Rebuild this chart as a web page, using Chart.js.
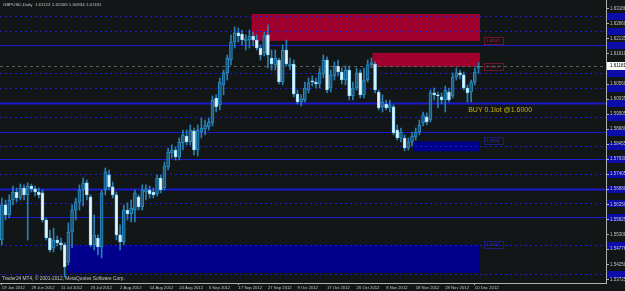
<!DOCTYPE html>
<html>
<head>
<meta charset="utf-8">
<script src="https://cdn.jsdelivr.net/npm/chart.js@4.4.1/dist/chart.umd.min.js"></script>
<style>
  html, body { margin: 0; padding: 0; background: #121617; }
  canvas { display: block; }
</style>
</head>
<body>
<canvas id="myChart" width="625" height="291"></canvas>
<script>
// GBPUSD daily candles, 19 Jun 2012 .. 13 Dec 2012
var symbol = "GBPUSD,Daily";

var opens = [1.5510,1.5633,1.5598,1.5650,1.5678,1.5657,1.5692,1.5668,1.5699,1.5689,
  1.5678,1.5675,1.5580,1.5517,1.5482,1.5510,1.5500,1.5493,1.5433,1.5538,
  1.5615,1.5643,1.5685,1.5710,1.5661,1.5493,1.5517,1.5486,1.5685,1.5738,
  1.5696,1.5668,1.5528,1.5503,1.5615,1.5601,1.5615,1.5661,1.5626,1.5678,
  1.5685,1.5678,1.5671,1.5727,1.5692,1.5766,1.5815,1.5825,1.5801,1.5850,
  1.5874,1.5853,1.5892,1.5825,1.5888,1.5899,1.5906,1.5920,1.6007,1.5983,
  1.6053,1.6095,1.6140,1.6203,1.6235,1.6231,1.6207,1.6210,1.6224,1.6210,
  1.6182,1.6165,1.6228,1.6147,1.6123,1.6140,1.6063,1.6175,1.6119,1.6126,
  1.6021,1.5993,1.6000,1.6035,1.6067,1.6063,1.6056,1.6091,1.6140,1.6042,
  1.6084,1.6119,1.6098,1.6070,1.6105,1.6014,1.6042,1.6095,1.6018,1.6070,
  1.6123,1.6126,1.6028,1.5976,1.5986,1.5972,1.5976,1.5895,1.5867,1.5867,
  1.5832,1.5853,1.5871,1.5888,1.5920,1.5941,1.5930,1.6025,1.6018,1.6011,
  1.6000,1.6028,1.6014,1.6081,1.6095,1.6088,1.6042,1.6028,1.6063,1.61123];

var highs = [1.5657,1.5650,1.5668,1.5699,1.5692,1.5706,1.5703,1.5710,1.5706,1.5699,
  1.5692,1.5685,1.5587,1.5545,1.5552,1.5524,1.5517,1.5500,1.5570,1.5633,
  1.5657,1.5703,1.5727,1.5720,1.5668,1.5598,1.5528,1.5685,1.5762,1.5755,
  1.5713,1.5678,1.5563,1.5633,1.5640,1.5650,1.5685,1.5668,1.5703,1.5703,
  1.5699,1.5692,1.5738,1.5738,1.5783,1.5832,1.5843,1.5836,1.5867,1.5895,
  1.5895,1.5913,1.5902,1.5913,1.5937,1.5930,1.5937,1.6014,1.6018,1.6077,
  1.6105,1.6158,1.6228,1.6256,1.6252,1.6245,1.6228,1.6245,1.6238,1.6228,
  1.6193,1.6238,1.6263,1.6175,1.6175,1.6147,1.6193,1.6210,1.6147,1.6140,
  1.6035,1.6018,1.6063,1.6077,1.6084,1.6077,1.6112,1.6158,1.6151,1.6105,
  1.6133,1.6140,1.6112,1.6119,1.6119,1.6063,1.6112,1.6105,1.6112,1.6140,
  1.6147,1.6133,1.6035,1.6018,1.6000,1.6000,1.5983,1.5913,1.5902,1.5878,
  1.5867,1.5888,1.5902,1.5930,1.5958,1.5955,1.6035,1.6042,1.6028,1.6025,
  1.6049,1.6042,1.6095,1.6112,1.6105,1.6098,1.6053,1.6070,1.6112,1.61305];

var lows = [1.5493,1.5580,1.5587,1.5633,1.5643,1.5650,1.5650,1.5510,1.5678,1.5664,
  1.5657,1.5573,1.5510,1.5468,1.5468,1.5489,1.5475,1.5380,1.5423,1.5482,
  1.5580,1.5615,1.5629,1.5650,1.5486,1.5475,1.5458,1.5447,1.5668,1.5685,
  1.5657,1.5510,1.5475,1.5493,1.5580,1.5573,1.5573,1.5615,1.5615,1.5650,
  1.5657,1.5657,1.5664,1.5675,1.5685,1.5755,1.5797,1.5790,1.5790,1.5825,
  1.5843,1.5843,1.5808,1.5804,1.5867,1.5878,1.5895,1.5909,1.5958,1.5965,
  1.6018,1.6070,1.6123,1.6182,1.6203,1.6193,1.6175,1.6182,1.6189,1.6175,
  1.6140,1.6154,1.6112,1.6105,1.6105,1.6056,1.6053,1.6119,1.6105,1.6011,
  1.5986,1.5979,1.5993,1.6025,1.6049,1.6042,1.6042,1.6077,1.6025,1.6028,
  1.6070,1.6084,1.6056,1.6053,1.6000,1.6000,1.6035,1.6007,1.6007,1.6063,
  1.6112,1.6025,1.5965,1.5958,1.5965,1.5958,1.5878,1.5860,1.5853,1.5822,
  1.5825,1.5839,1.5860,1.5878,1.5909,1.5913,1.5923,1.6000,1.5972,1.5986,
  1.5958,1.5993,1.6007,1.6070,1.6074,1.6035,1.5993,1.5993,1.6053,1.60934];

var closes = [1.5633,1.5598,1.5650,1.5678,1.5657,1.5692,1.5668,1.5699,1.5689,1.5678,
  1.5668,1.5580,1.5517,1.5475,1.5510,1.5500,1.5493,1.5416,1.5538,1.5615,
  1.5643,1.5685,1.5710,1.5668,1.5493,1.5528,1.5486,1.5675,1.5748,1.5696,
  1.5668,1.5528,1.5503,1.5615,1.5601,1.5622,1.5675,1.5626,1.5685,1.5689,
  1.5671,1.5668,1.5727,1.5685,1.5769,1.5818,1.5825,1.5801,1.5853,1.5878,
  1.5853,1.5895,1.5825,1.5895,1.5902,1.5913,1.5923,1.6000,1.5976,1.6063,
  1.6095,1.6147,1.6203,1.6235,1.6224,1.6210,1.6214,1.6224,1.6210,1.6182,
  1.6158,1.6224,1.6158,1.6126,1.6147,1.6063,1.6175,1.6126,1.6126,1.6021,
  1.5993,1.6004,1.6042,1.6060,1.6063,1.6056,1.6095,1.6140,1.6035,1.6088,
  1.6119,1.6098,1.6070,1.6105,1.6014,1.6042,1.6095,1.6018,1.6070,1.6123,
  1.6130,1.6035,1.5972,1.5993,1.5972,1.5983,1.5885,1.5867,1.5888,1.5832,
  1.5853,1.5874,1.5888,1.5913,1.5948,1.5923,1.6025,1.6018,1.6014,1.6000,
  1.6035,1.6000,1.6081,1.6095,1.6088,1.6042,1.6025,1.6063,1.6098,1.61181];

// time axis labels, one every 8 bars
var dateTicks = ["19 Jun 2012","29 Jun 2012","11 Jul 2012","23 Jul 2012","2 Aug 2012",
  "14 Aug 2012","24 Aug 2012","5 Sep 2012","17 Sep 2012","27 Sep 2012","9 Oct 2012",
  "17 Oct 2012","26 Oct 2012","8 Nov 2012","18 Nov 2012","28 Nov 2012","10 Dec 2012"];

// price axis labels
var priceTicks = [1.63188,1.62660,1.62135,1.61610,1.60560,1.60035,1.59505,1.58980,1.58455,
  1.57930,1.57405,1.56880,1.56350,1.55825,1.55300,1.54776,1.54250,1.53725];

// horizontal levels drawn on the chart
var levelPrices = [1.6294,1.6242,1.6193,1.6095,1.6042,1.5990,1.5941,1.5888,1.5839,
  1.5794,1.5741,1.5689,1.5640,1.5591,1.5493,1.5391];
var levelKinds = ["dot","dot","solid","dot","dot","thick","dot","solid","dot",
  "solid","dot","thick","dot","solid","dot","dot"];

// supply / demand rectangles (bar index from..to, price high..low)
var zoneFrom = [67.6, 100.3, 17.9, 111.3];
var zoneTo   = [129.4, 129.4, 129.4, 129.4];
var zoneHigh = [1.6301, 1.6165, 1.5493, 1.5855];
var zoneLow  = [1.6207, 1.6116, 1.5395, 1.5820];
var zoneKind = ["supply", "supply", "demand", "demand"];

var tradeText = "BUY 0.1lot @1.6000";
var tradeBar = 126.2, tradePrice = 1.5965;
var copyright = "Trader24 MT4, \u00a9 2001-2012, MetaQuotes Software Corp.";

var totalSlots = 164; // bars + empty right margin
var yMin = 1.53595, yMax = 1.6350;

var bg = "#121617";
var bullFill = "#17587c", bullEdge = "#2c8cc2", bearFill = "#e2f7ff", bearEdge = "#98d8f4";
var wickColor = "#2a80b4";
var textColor = "#c4c4c4";
var axisColor = "#b0b0b0";
var zoneColors = { supply: "#a0002e", demand: "#00008c" };
var zoneEdgeColors = { supply: "#c8183c", demand: "#2a2ad8" };

var slots = [];
for (var i = 0; i < totalSlots; i++) slots.push(i);

var bodies = [], wicks = [], fills = [], edges = [];
for (var i = 0; i < opens.length; i++) {
    bodies.push([Math.min(opens[i], closes[i]), Math.max(opens[i], closes[i])]);
    wicks.push([lows[i], highs[i]]);
    var up = closes[i] >= opens[i];
    fills.push(up ? bullFill : bearFill);
    edges.push(up ? bullEdge : bearEdge);
}

var overlay = {
    id: "mt4",
    beforeDraw: function (chart) {
        var c = chart.ctx, a = chart.chartArea, ys = chart.scales.y;
        c.save();
        c.fillStyle = bg;
        c.fillRect(0, 0, chart.width, chart.height);
        // level tags on the price axis
        c.fillStyle = "#0c0ca8";
        for (var i = 0; i < levelPrices.length; i++) {
            var py = Math.round(ys.getPixelForValue(levelPrices[i]));
            c.fillRect(a.right + 1, py - 3, chart.width - a.right - 1, 7);
        }
        c.restore();
    },
    beforeDatasetsDraw: function (chart) {
        var c = chart.ctx, a = chart.chartArea, xs = chart.scales.x, ys = chart.scales.y;
        c.save();
        c.beginPath();
        c.rect(a.left, a.top, a.right - a.left, a.bottom - a.top);
        c.clip();
        // rectangles
        for (var i = 0; i < zoneFrom.length; i++) {
            var x1 = xs.getPixelForValue(zoneFrom[i]), x2 = xs.getPixelForValue(zoneTo[i]);
            var y1 = ys.getPixelForValue(zoneHigh[i]), y2 = ys.getPixelForValue(zoneLow[i]);
            c.fillStyle = zoneColors[zoneKind[i]];
            c.fillRect(x1, y1, x2 - x1, y2 - y1);
        }
        // horizontal levels
        c.strokeStyle = "#1a1ad2";
        for (var i = 0; i < levelPrices.length; i++) {
            var py = Math.round(ys.getPixelForValue(levelPrices[i])) + 0.5;
            var k = levelKinds[i];
            c.lineWidth = k == "thick" ? 2 : 1;
            c.setLineDash(k == "dot" ? [2, 3] : []);
            c.beginPath();
            c.moveTo(a.left, py);
            c.lineTo(a.right, py);
            c.stroke();
        }
        // bid line
        var last = closes[closes.length - 1];
        var by = Math.round(ys.getPixelForValue(last)) + 0.5;
        c.strokeStyle = "#5c5c5c";
        c.lineWidth = 1;
        c.setLineDash([3, 3]);
        c.beginPath();
        c.moveTo(a.left, by);
        c.lineTo(a.right, by);
        c.stroke();
        c.restore();
    },
    afterDraw: function (chart) {
        var c = chart.ctx, a = chart.chartArea, xs = chart.scales.x, ys = chart.scales.y;
        var n = opens.length - 1;
        c.save();
        c.textBaseline = "middle";
        c.textAlign = "left";
        // header
        c.fillStyle = textColor;
        c.font = "4.4px 'Liberation Sans'";
        c.fillText(symbol + "  " + [opens[n], highs[n], lows[n], closes[n]].map(function (v) { return v.toFixed(5); }).join(" "), 3, 5);
        // copyright
        c.font = "4.8px 'Liberation Sans'";
        c.fillText(copyright, 2, 279);
        // trade note
        c.fillStyle = "#c8b40c";
        c.font = "7px 'Liberation Sans'";
        c.fillText(tradeText, xs.getPixelForValue(tradeBar), ys.getPixelForValue(tradePrice));
        // rectangle price tags
        c.font = "4.4px 'Liberation Sans'";
        for (var i = 0; i < zoneFrom.length; i++) {
            var edge = zoneKind[i] == "supply" ? zoneLow[i] : zoneHigh[i];
            var tx = xs.getPixelForValue(zoneTo[i]) + 4;
            var ty = Math.round(ys.getPixelForValue(edge));
            c.strokeStyle = zoneEdgeColors[zoneKind[i]];
            c.lineWidth = 1;
            c.setLineDash([1, 1]);
            c.strokeRect(tx + 0.5, ty - 3.5, 19, 7);
            c.fillStyle = zoneEdgeColors[zoneKind[i]];
            c.fillText(edge.toFixed(4), tx + 2, ty);
        }
        c.setLineDash([]);
        // current price tag
        var py = Math.round(ys.getPixelForValue(closes[n]));
        c.fillStyle = "#ffffff";
        c.fillRect(a.right + 1, py - 4, chart.width - a.right - 1, 8);
        c.fillStyle = "#000000";
        c.font = "4.5px 'Liberation Sans'";
        c.fillText(closes[n].toFixed(5), a.right + 4, py);
        c.restore();
    }
};

var canvas = document.getElementById("myChart");
var ctx = canvas.getContext("2d");

var myChart = new Chart(ctx, {
    type: "bar",
    data: {
        labels: slots,
        datasets: [{
            data: bodies,
            backgroundColor: fills,
            borderColor: edges,
            borderWidth: 1,
            borderSkipped: false,
            barThickness: 3,
            minBarLength: 1,
            grouped: false
        }, {
            data: wicks,
            backgroundColor: wickColor,
            borderWidth: 0,
            barThickness: 1,
            grouped: false
        }]
    },
    options: {
        responsive: false,
        animation: false,
        layout: { padding: 0 },
        plugins: { legend: { display: false }, tooltip: { enabled: false } },
        scales: {
            x: {
                offset: true,
                grid: {
                    drawOnChartArea: false,
                    offset: false,
                    tickLength: 2,
                    color: function (ctx) {
                        return (ctx.index % 8 === 0 && ctx.index / 8 < dateTicks.length) ? axisColor : "rgba(0,0,0,0)";
                    }
                },
                border: { color: axisColor },
                ticks: {
                    autoSkip: false,
                    maxRotation: 0,
                    minRotation: 0,
                    align: "start",
                    padding: 0,
                    color: textColor,
                    font: { family: "Liberation Sans", size: 4.2 },
                    callback: function (v, i) {
                        return (i % 8 === 0 && i / 8 < dateTicks.length) ? dateTicks[i / 8] : null;
                    }
                },
                afterFit: function (s) { s.height = 8; s.paddingLeft = 0; s.paddingRight = 0; }
            },
            y: {
                position: "right",
                min: yMin,
                max: yMax,
                grid: { drawOnChartArea: false, tickLength: 3, color: axisColor },
                border: { color: axisColor },
                afterBuildTicks: function (s) {
                    s.ticks = priceTicks.map(function (v) { return { value: v }; });
                },
                ticks: {
                    padding: 1,
                    color: textColor,
                    font: { family: "Liberation Sans", size: 4.5 },
                    callback: function (v) { return v.toFixed(5); }
                },
                afterFit: function (s) { s.width = 19; s.paddingTop = 0; s.paddingBottom = 0; }
            }
        }
    },
    plugins: [overlay]
});
</script>
</body>
</html>
